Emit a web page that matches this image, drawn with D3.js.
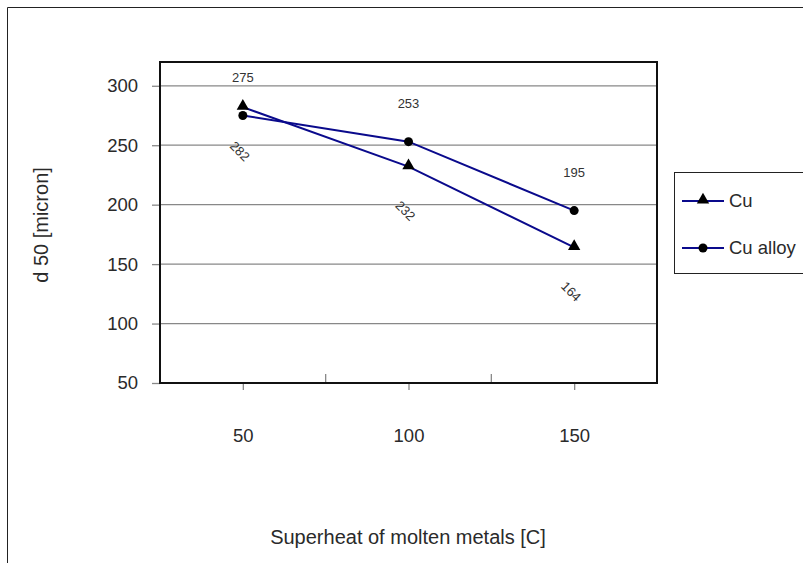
<!DOCTYPE html>
<html>
<head>
<meta charset="utf-8">
<script src="https://cdn.jsdelivr.net/npm/d3@7/dist/d3.min.js"></script>
<style>
  html, body { margin: 0; padding: 0; background: #fff; }
  svg { display: block; font-family: "Liberation Sans", Arial, sans-serif; }
</style>
</head>
<body>
<svg id="chart" width="803" height="563"></svg>
<script>
// Superheat categories (x axis)
const categories = ["50", "100", "150"];
// d50 particle size per series
const cuValues = [282, 232, 164];
const cuAlloyValues = [275, 253, 195];
const seriesNames = ["Cu", "Cu alloy"];
// y axis ticks
const yTicks = [50, 100, 150, 200, 250, 300];

const svg = d3.select("#chart");
const W = 803, H = 563;
const plot = { left: 160, right: 657, top: 62, bottom: 383 };
const textColor = "#2a2a2a";

// outer chart frame (right and bottom run off the page)
svg.append("path")
  .attr("d", `M7.5,${H + 5} V7.5 H${W + 5}`)
  .attr("fill", "none").attr("stroke", "#222").attr("stroke-width", 1);

const x = d3.scalePoint().domain(categories).range([plot.left, plot.right]).padding(0.5);
const y = d3.scaleLinear().domain([50, 320]).range([plot.bottom, plot.top]);

// gridlines
svg.append("g").selectAll("line").data(yTicks.filter(t => t > 50)).join("line")
  .attr("x1", plot.left).attr("x2", plot.right)
  .attr("y1", d => y(d)).attr("y2", d => y(d))
  .attr("stroke", "#888").attr("stroke-width", 1.3);

// y axis
const yAxis = svg.append("g").attr("transform", `translate(${plot.left},0)`)
  .call(d3.axisLeft(y).tickValues(yTicks).tickSize(8).tickPadding(14));
yAxis.select(".domain").remove();
yAxis.selectAll(".tick line").attr("stroke", "#888").attr("stroke-width", 1.3);
yAxis.selectAll(".tick text").attr("fill", textColor).attr("font-size", 18.5)
  .attr("font-family", "Liberation Sans, Arial, sans-serif");

// x axis: downward ticks at categories, upward ticks between categories
const xAxis = svg.append("g").attr("transform", `translate(0,${plot.bottom})`)
  .call(d3.axisBottom(x).tickSize(7).tickPadding(39));
xAxis.select(".domain").remove();
xAxis.selectAll(".tick line").attr("stroke", "#888").attr("stroke-width", 1.3);
xAxis.selectAll(".tick text").attr("fill", textColor).attr("font-size", 18.5)
  .attr("font-family", "Liberation Sans, Arial, sans-serif");
const step = x.step();
svg.append("g").selectAll("line").data(categories.slice(1)).join("line")
  .attr("x1", d => x(d) - step / 2).attr("x2", d => x(d) - step / 2)
  .attr("y1", plot.bottom).attr("y2", plot.bottom - 9)
  .attr("stroke", "#888").attr("stroke-width", 1.3);

// plot area frame
svg.append("rect")
  .attr("x", plot.left).attr("y", plot.top)
  .attr("width", plot.right - plot.left).attr("height", plot.bottom - plot.top)
  .attr("fill", "none").attr("stroke", "#111").attr("stroke-width", 2);

// series lines
const line = d3.line().x((d, i) => x(categories[i])).y(d => y(d));
const navy = "#0a0a8c";
[cuValues, cuAlloyValues].forEach(vals => {
  svg.append("path").datum(vals).attr("d", line)
    .attr("fill", "none").attr("stroke", navy).attr("stroke-width", 2);
});

const tri = d3.symbol().type(d3.symbolTriangle).size(66);
// Cu markers (triangles)
svg.append("g").selectAll("path").data(cuValues).join("path")
  .attr("d", tri)
  .attr("transform", (d, i) => `translate(${x(categories[i])},${y(d) - 1})`)
  .attr("fill", "#000");
// Cu alloy markers (circles)
svg.append("g").selectAll("circle").data(cuAlloyValues).join("circle")
  .attr("cx", (d, i) => x(categories[i])).attr("cy", d => y(d)).attr("r", 4.5)
  .attr("fill", "#000");

// data labels
svg.append("g").selectAll("text").data(cuAlloyValues).join("text")
  .attr("x", (d, i) => x(categories[i])).attr("y", d => y(d) - 34)
  .attr("text-anchor", "middle").attr("font-size", 13).attr("fill", "#333")
  .text(d => d);
svg.append("g").selectAll("text").data(cuValues).join("text")
  .attr("transform", (d, i) => `translate(${x(categories[i]) - 3},${y(d) + 44}) rotate(45)`)
  .attr("text-anchor", "middle").attr("dy", "0.35em")
  .attr("font-size", 13).attr("fill", "#333")
  .text(d => d);

// axis titles
svg.append("text").attr("transform", "translate(48,225) rotate(-90)")
  .attr("text-anchor", "middle").attr("font-size", 20).attr("fill", textColor)
  .text("d 50 [micron]");
svg.append("text").attr("x", 408).attr("y", 544)
  .attr("text-anchor", "middle").attr("font-size", 20).attr("fill", textColor)
  .text("Superheat of molten metals [C]");

// legend
const lg = svg.append("g");
lg.append("rect").attr("x", 674.5).attr("y", 172.5).attr("width", 140).attr("height", 101)
  .attr("fill", "#fff").attr("stroke", "#222").attr("stroke-width", 1);
const ly = [201, 248];
seriesNames.forEach((name, i) => {
  lg.append("line").attr("x1", 682).attr("x2", 724).attr("y1", ly[i]).attr("y2", ly[i])
    .attr("stroke", navy).attr("stroke-width", 2);
  if (i === 0) {
    lg.append("path").attr("d", tri).attr("transform", `translate(703,${ly[i] - 1})`).attr("fill", "#000");
  } else {
    lg.append("circle").attr("cx", 703).attr("cy", ly[i]).attr("r", 4.5).attr("fill", "#000");
  }
  lg.append("text").attr("x", 729).attr("y", ly[i]).attr("dy", "0.35em")
    .attr("font-size", 18.5).attr("fill", textColor).text(name);
});
</script>
</body>
</html>
